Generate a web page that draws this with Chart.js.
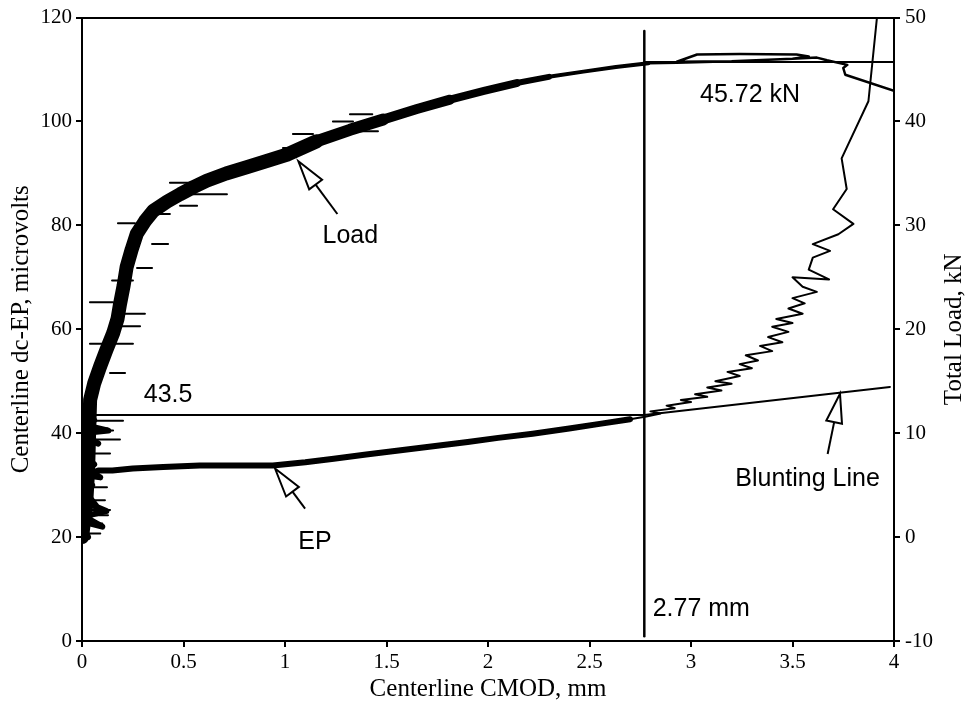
<!DOCTYPE html>
<html>
<head>
<meta charset="utf-8">
<title>dc-EP vs CMOD</title>
<script src="https://cdn.jsdelivr.net/npm/chart.js@4.4.1/dist/chart.umd.min.js"></script>
<style>
  html, body { margin: 0; padding: 0; background: #fff; }
  #wrap { width: 966px; height: 702px; }
</style>
</head>
<body>
<div id="wrap"><canvas id="cmodChart" width="966" height="702"></canvas></div>
<script>
// --- data ---------------------------------------------------------------

// Load trace centreline (CMOD mm, total load kN) - right axis
const loadX = [0.00, 0.02, 0.03, 0.035, 0.04, 0.06, 0.089, 0.12, 0.153, 0.175, 0.187, 0.205, 0.22,
  0.245, 0.27, 0.31, 0.351, 0.42, 0.483, 0.55, 0.614, 0.71, 0.811, 0.91, 1.008, 1.156, 1.32,
  1.484, 1.65, 1.813, 1.98, 2.141, 2.30, 2.47, 2.63, 2.79, 2.93, 3.20, 3.50, 3.58, 3.52, 3.24,
  3.03, 2.93, 3.20, 3.50, 3.62, 3.67, 3.77, 3.75, 3.76, 4.00];
const loadKN = [0.0, 3.0, 6.4, 10.0, 13.2, 14.8, 16.4, 18.0, 19.6, 21.0, 22.4, 24.2, 26.0,
  27.7, 29.2, 30.4, 31.4, 32.3, 33.0, 33.7, 34.3, 35.0, 35.6, 36.2, 36.8, 38.1, 39.2,
  40.2, 41.2, 42.1, 42.95, 43.7, 44.3, 44.8, 45.25, 45.6, 45.65, 45.8, 46.05, 46.25, 46.45, 46.5,
  46.45, 45.75, 45.8, 46.05, 46.15, 45.9, 45.45, 45.15, 44.5, 42.95];

// horizontal noise spikes on the load band (start mm, end mm, kN)
const loadHairX0 = [0.039, 0.138, 0.039, 0.172, 0.153, 0.148, 0.271, 0.345, 0.177, 0.325, 0.483,
  0.547, 0.433, 0.842, 0.99, 1.039, 1.236, 1.369, 1.32];
const loadHairX1 = [0.153, 0.212, 0.251, 0.286, 0.310, 0.251, 0.345, 0.424, 0.261, 0.433, 0.567,
  0.714, 0.532, 0.911, 1.11, 1.138, 1.335, 1.458, 1.43];
const loadHairKN = [22.6, 15.8, 18.6, 20.3, 21.5, 24.7, 25.9, 28.2, 30.2, 31.1, 31.9,
  33.0, 34.1, 36.0, 37.45, 38.8, 40.0, 39.05, 40.7];

// EP trace (CMOD mm, microvolts) - left axis
const epX = [0.00, 0.03, 0.00, 0.10, 0.01, 0.12, 0.00, 0.07, 0.01, 0.05, 0.00, 0.09, 0.02, 0.06,
  0.00, 0.04, 0.01, 0.08, 0.00, 0.13, 0.02, 0.06, 0.00, 0.04, 0.02, 0.05, 0.03, 0.08, 0.15, 0.25,
  0.40, 0.58, 0.75, 0.94, 1.10, 1.24, 1.40, 1.57, 1.75, 1.90, 2.05, 2.22, 2.40, 2.55, 2.70, 2.78,
  2.85, 2.80, 2.92, 2.88, 3.00, 2.95, 3.08, 3.02, 3.15, 3.08, 3.20, 3.12, 3.24, 3.18, 3.30, 3.24,
  3.33, 3.27, 3.40, 3.34, 3.45, 3.38, 3.48, 3.40, 3.50, 3.42, 3.55, 3.48, 3.56, 3.50, 3.62, 3.55,
  3.50, 3.68, 3.58, 3.60, 3.685, 3.60, 3.726, 3.80, 3.70, 3.767, 3.742, 3.874, 3.916];
const epUV = [21, 20, 23, 22, 24, 25, 27, 26, 29, 30, 32, 31.5, 33, 34,
  36, 37, 39, 38, 40, 40.5, 41.5, 42.5, 44, 44.5, 38, 34, 32, 32.8, 32.8, 33.2,
  33.5, 33.8, 33.8, 33.8, 34.4, 35.1, 35.9, 36.7, 37.6, 38.3, 39.1, 39.9, 40.9, 41.8, 42.7, 43.2,
  43.8, 44.2, 44.8, 45.3, 46.0, 46.4, 47.0, 47.5, 48.2, 48.8, 49.5, 50.0, 51.0, 51.8, 52.5, 53.3,
  54.0, 55.0, 55.8, 56.8, 57.5, 58.5, 59.5, 60.5, 61.2, 62.0, 63.0, 64.0, 65.0, 66.0, 67.2, 68.2,
  70.0, 69.6, 71.5, 73.8, 75.1, 76.4, 78.3, 80.3, 83.1, 87.0, 92.9, 103.9, 120];

// horizontal noise spikes near the start of EP (start mm, end mm, microvolts)
const epHairX0 = [0.025, 0.025, 0.025, 0.025, 0.025, 0.025, 0.025, 0.04, 0.04, 0.04];
const epHairX1 = [0.202, 0.153, 0.187, 0.138, 0.123, 0.113, 0.138, 0.128, 0.10, 0.09];
const epHairUV = [42.4, 40.5, 38.8, 36.1, 29.6, 27.1, 25.2, 24.2, 22.6, 20.7];

// construction lines
const bluntX = [2.77, 3.98];
const bluntUV = [43.5, 48.9];
const initX = [0, 2.77];
const initUV = [43.5, 43.5];
const cmodX = [2.77, 2.77];
const cmodUV = [0.9, 117.4];
const peakX = [2.77, 4.0];
const peakKN = [45.72, 45.72];

// axis ticks
const xTicks = [0, 0.5, 1, 1.5, 2, 2.5, 3, 3.5, 4];
const leftTicks = [0, 20, 40, 60, 80, 100, 120];
const rightTicks = [-10, 0, 10, 20, 30, 40, 50];

// --- annotations (positions in axis units: x mm, y microvolts) -----------
const notes = [
  { text: '43.5', x: 0.424, y: 47.4, align: 'center' },
  { text: 'Load', x: 1.322, y: 78.0, align: 'center' },
  { text: 'EP', x: 1.148, y: 19.1, align: 'center' },
  { text: '45.72 kN', x: 3.291, y: 105.0, align: 'center' },
  { text: '2.77 mm', x: 2.811, y: 6.2, align: 'left' },
  { text: 'Blunting Line', x: 3.574, y: 31.2, align: 'center' }
];
const arrows = [
  { tip: [1.066, 92.35], tail: [1.258, 82.2] },
  { tip: [0.951, 33.2], tail: [1.099, 25.5] },
  { tip: [3.734, 47.6], tail: [3.673, 36.0] }
];

// how the load band narrows toward the peak: [last mm of the run, stroke px]
const bandSteps = [[1.2, 14], [1.55, 12], [1.85, 10], [2.15, 8], [2.45, 6], [2.8, 4]];

const SERIF = "'Times New Roman', 'Liberation Serif', serif";
const SANS = "Arial, 'Liberation Sans', Helvetica, sans-serif";

const pts = (xs, ys) => xs.map((x, i) => ({ x: x, y: ys[i] }));
// separate horizontal strokes, broken apart with empty points
const strokes = (x0, x1, ys) => ys.flatMap((y, i) => [{ x: x0[i], y: y }, { x: x1[i], y: y }, { x: x1[i], y: null }]);
// leading run of a trace, up to the first point past xmax
const upTo = (list, xmax) => {
  const i = list.findIndex(p => p.x > xmax);
  return i < 0 ? list : list.slice(0, i);
};

function line(label, data, axis, width) {
  return {
    label: label,
    data: data,
    yAxisID: axis,
    showLine: true,
    spanGaps: false,
    borderColor: '#000',
    backgroundColor: '#000',
    borderWidth: width,
    borderJoinStyle: 'round',
    borderCapStyle: 'round',
    pointRadius: 0,
    tension: 0
  };
}

const loadPts = pts(loadX, loadKN);
const epPts = pts(epX, epUV);

function pick(list) {
  return scale => { scale.ticks = list.map(v => ({ value: v })); };
}

const annotatePlugin = {
  id: 'annotate',
  afterDatasetsDraw(chart) {
    const { ctx, chartArea } = chart;
    const sx = chart.scales.x, sy = chart.scales.y;
    ctx.save();

    // open-headed arrows
    arrows.forEach(a => {
      const tx = sx.getPixelForValue(a.tip[0]), ty = sy.getPixelForValue(a.tip[1]);
      const ex = sx.getPixelForValue(a.tail[0]), ey = sy.getPixelForValue(a.tail[1]);
      const len = Math.hypot(tx - ex, ty - ey);
      const dx = (tx - ex) / len, dy = (ty - ey) / len;
      const bx = tx - dx * 29, by = ty - dy * 29;
      ctx.strokeStyle = '#000';
      ctx.lineWidth = 2;
      ctx.beginPath();
      ctx.moveTo(ex, ey);
      ctx.lineTo(bx, by);
      ctx.stroke();
      ctx.beginPath();
      ctx.moveTo(tx, ty);
      ctx.lineTo(bx - dy * 8, by + dx * 8);
      ctx.lineTo(bx + dy * 8, by - dx * 8);
      ctx.closePath();
      ctx.fillStyle = '#fff';
      ctx.fill();
      ctx.stroke();
    });

    // text labels
    ctx.fillStyle = '#000';
    ctx.font = '25px ' + SANS;
    ctx.textBaseline = 'middle';
    notes.forEach(n => {
      ctx.textAlign = n.align;
      ctx.fillText(n.text, sx.getPixelForValue(n.x), sy.getPixelForValue(n.y));
    });

    // right axis title reads bottom to top
    ctx.font = '25px ' + SERIF;
    ctx.textAlign = 'center';
    ctx.translate(954, (chartArea.top + chartArea.bottom) / 2);
    ctx.rotate(-Math.PI / 2);
    ctx.fillText('Total Load, kN', 0, 0);
    ctx.restore();
  }
};

const tickFont = { family: SERIF, size: 21 };
const axisGrid = { drawOnChartArea: false, drawTicks: true, tickLength: 6, color: '#000', lineWidth: 2 };
const axisBorder = { display: true, color: '#000', width: 2 };

const bandSets = bandSteps.map(([xmax, w], i) => line('Load band ' + (i + 1), upTo(loadPts, xmax), 'y2', w));

new Chart(document.getElementById('cmodChart'), {
  type: 'scatter',
  data: {
    datasets: [
      ...bandSets,
      line('Load', loadPts, 'y2', 2.5),
      line('Load noise', strokes(loadHairX0, loadHairX1, loadHairKN), 'y2', 2),
      line('EP band', upTo(epPts, 2.75), 'y', 6),
      line('EP', epPts, 'y', 2),
      line('EP noise', strokes(epHairX0, epHairX1, epHairUV), 'y', 2),
      line('Initiation', pts(initX, initUV), 'y', 2),
      line('CMOD', pts(cmodX, cmodUV), 'y', 2.5),
      line('Peak', pts(peakX, peakKN), 'y2', 2),
      line('Blunting', pts(bluntX, bluntUV), 'y', 2)
    ]
  },
  options: {
    responsive: false,
    animation: false,
    layout: { padding: 0 },
    plugins: { legend: { display: false }, tooltip: { enabled: false } },
    scales: {
      x: {
        type: 'linear', position: 'bottom', min: 0, max: 4,
        afterBuildTicks: pick(xTicks),
        ticks: { color: '#000', font: tickFont, padding: 3, maxRotation: 0, callback: v => String(v) },
        grid: axisGrid, border: axisBorder,
        title: { display: true, text: 'Centerline CMOD, mm', color: '#000',
                 font: { family: SERIF, size: 25, lineHeight: 1 }, padding: { top: 1, bottom: 0 } },
        afterFit: s => { s.height = 61; }
      },
      xTop: {
        type: 'linear', position: 'top', min: 0, max: 4,
        ticks: { display: false }, grid: { display: false }, border: axisBorder,
        afterFit: s => { s.height = 17; }
      },
      y: {
        position: 'left', min: 0, max: 120,
        afterBuildTicks: pick(leftTicks),
        ticks: { color: '#000', font: tickFont, padding: 4 },
        grid: axisGrid, border: axisBorder,
        title: { display: true, text: 'Centerline dc-EP, microvolts', color: '#000',
                 font: { family: SERIF, size: 25, lineHeight: 1 }, padding: { top: 9, bottom: 0 } },
        afterFit: s => { s.width = 82; }
      },
      y2: {
        position: 'right', min: -10, max: 50,
        afterBuildTicks: pick(rightTicks),
        ticks: { color: '#000', font: tickFont, padding: 5 },
        grid: axisGrid, border: axisBorder,
        afterFit: s => { s.width = 72; }
      }
    }
  },
  plugins: [annotatePlugin]
});
</script>
</body>
</html>
